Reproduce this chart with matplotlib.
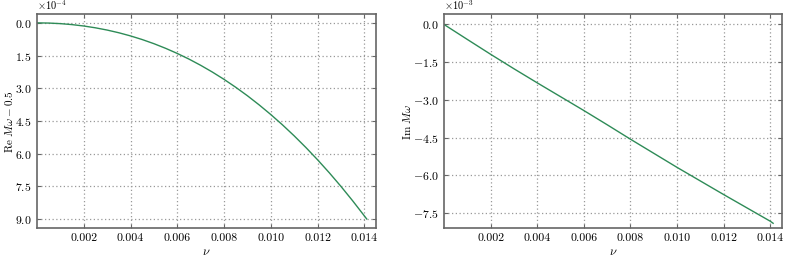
"""Quasinormal mode frequency shift versus nu: real and imaginary parts."""
import matplotlib
matplotlib.use("Agg")
import matplotlib.pyplot as plt
from matplotlib.ticker import MultipleLocator, ScalarFormatter

plt.rcParams["font.family"] = "serif"
plt.rcParams["font.serif"] = ["cmr10", "DejaVu Serif"]
plt.rcParams["mathtext.fontset"] = "cm"
plt.rcParams["axes.formatter.use_mathtext"] = True
plt.rcParams["axes.unicode_minus"] = True

# values
nu_re = [0.0, 0.0005, 0.001, 0.0015, 0.002, 0.0025, 0.003, 0.0035, 0.004,
         0.0045, 0.005, 0.0055, 0.006, 0.0065, 0.007, 0.0075, 0.008,
         0.0085, 0.009, 0.0095, 0.010, 0.0105, 0.011, 0.0115, 0.012,
         0.0125, 0.013, 0.0135, 0.014, 0.0141]
re_shift = [0.0, 0.009, 0.035, 0.080, 0.144, 0.227, 0.330, 0.454, 0.599,
            0.766, 0.955, 1.168, 1.404, 1.663, 1.948, 2.258, 2.594,
            2.957, 3.346, 3.764, 4.209, 4.683, 5.187, 5.721, 6.285,
            6.880, 7.507, 8.167, 8.859, 9.0]                     # x 1e-4

nu_im = [0.0, 0.001, 0.002, 0.003, 0.004, 0.005, 0.006, 0.007, 0.008,
         0.009, 0.010, 0.011, 0.012, 0.013, 0.014, 0.01412]
im_omega = [0.0, -0.595, -1.185, -1.760, -2.320, -2.870, -3.420, -3.985,
            -4.560, -5.120, -5.680, -6.220, -6.760, -7.290, -7.820, -7.900]  # x 1e-3

x_ticks = [0.002, 0.004, 0.006, 0.008, 0.010, 0.012, 0.014]

GREEN = "#2e8b57"
SPINE = "#666666"

fig = plt.figure(figsize=(7.89, 2.59), dpi=100)
ax1 = fig.add_axes([0.0469, 0.1185, 0.4297, 0.826])
ax2 = fig.add_axes([0.5627, 0.1185, 0.4284, 0.826])

ax1.plot(nu_re, [v * 1e-4 for v in re_shift], color=GREEN, lw=1.0)
ax2.plot(nu_im, [v * 1e-3 for v in im_omega], color=GREEN, lw=1.0)

ax1.set_ylim(9.43e-4, -0.39e-4)   # inverted, 0 at top
ax1.yaxis.set_major_locator(MultipleLocator(1.5e-4))
ax1.set_ylabel(r"Re $M\omega-0.5$", fontsize=8)
ax1.yaxis.set_label_coords(-0.066, 0.5)

ax2.set_ylim(-8.1e-3, 0.4e-3)
ax2.yaxis.set_major_locator(MultipleLocator(1.5e-3))
ax2.set_ylabel(r"Im $M\omega$", fontsize=8)
ax2.yaxis.set_label_coords(-0.092, 0.5)

for ax in (ax1, ax2):
    ax.set_xlim(0, 0.0145)
    ax.set_xticks(x_ticks)
    ax.set_xticklabels([f"{t:.3f}" for t in x_ticks])
    fmt = ScalarFormatter(useMathText=True)
    fmt.set_powerlimits((-2, 2))
    ax.yaxis.set_major_formatter(fmt)
    ax.yaxis.get_offset_text().set_fontsize(7.5)
    ax.set_xlabel(r"$\nu$", fontsize=9, labelpad=2)
    ax.grid(True, linestyle=(0, (1, 2)), color="#999999", lw=0.9)
    ax.tick_params(direction="in", length=3, width=0.8, color=SPINE,
                   labelsize=8.5, top=True, right=True, pad=4)
    for s in ax.spines.values():
        s.set_color(SPINE)
        s.set_linewidth(1.2)

fig.savefig("out.png", dpi=100)
